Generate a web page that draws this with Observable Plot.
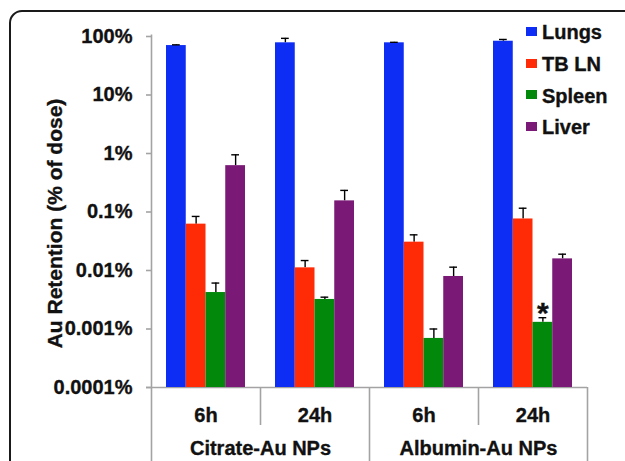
<!DOCTYPE html>
<html><head><meta charset="utf-8">
<script src="https://cdn.jsdelivr.net/npm/d3@7"></script>
<script src="https://cdn.jsdelivr.net/npm/@observablehq/plot@0.6"></script>
<style>
html,body{margin:0;padding:0;background:#fff;}
#wrap{position:relative;width:625px;height:461px;overflow:hidden;font-family:"Liberation Sans",Arial,sans-serif;}
#frame{position:absolute;left:9px;top:10px;width:700px;height:600px;border:2px solid #1a1a1a;border-top-left-radius:13px;box-sizing:border-box;pointer-events:none;}
#legend{position:absolute;left:526px;top:17px;font-weight:bold;font-size:20px;color:#111;-webkit-text-stroke:0.35px #111;}
.row{display:flex;align-items:center;height:31.7px;}
.sw{width:11px;height:9px;margin-right:5px;margin-top:-3px;}
svg text{stroke:#111;stroke-width:0.35px;}
</style></head><body><div id="wrap"></div>
<script>
// ---- data ----
const npTypes = ["Citrate-Au NPs", "Albumin-Au NPs"];
const times = ["6h", "24h"];
const organs = ["Lungs", "TB LN", "Spleen", "Liver"];
const colors = ["#0d2df5", "#ff2b06", "#02880b", "#7a1a76"];
// values in % of dose, order: Citrate 6h, Citrate 24h, Albumin 6h, Albumin 24h
const lungs = [70, 78, 78, 83];
const lungsUpper = [72, 93, 79.5, 89];
const tbln = [0.062, 0.0111, 0.0305, 0.076];
const tblnUpper = [0.084, 0.0148, 0.0407, 0.116];
const spleen = [0.0042, 0.0032, 0.00069, 0.0013];
const spleenUpper = [0.0061, 0.0035, 0.0010, 0.00156];
const liver = [0.62, 0.155, 0.0079, 0.0158];
const liverUpper = [0.95, 0.234, 0.0114, 0.019];
const yTicks = [100, 10, 1, 0.1, 0.01, 0.001, 0.0001];
const yTickLabels = ["100%", "10%", "1%", "0.1%", "0.01%", "0.001%", "0.0001%"];
const yLabel = "Au Retention (% of dose)";
const starOrgan = "Spleen"; // significance marker on Albumin-Au NPs 24h

// ---- build ----
const values = [lungs, tbln, spleen, liver];
const uppers = [lungsUpper, tblnUpper, spleenUpper, liverUpper];
const conds = npTypes.flatMap(t => times.map(h => `${t} ${h}`));
const rows = [];
conds.forEach((c, j) => organs.forEach((o, i) =>
  rows.push({cond: c, organ: o, time: times[j % 2], value: values[i][j], upper: uppers[i][j]})));

const W = 625, H = 461, ML = 151, MR = 38, MT = 36, MB = 74;
const floor = 0.0001;
const step = (W - ML - MR) / conds.length;
const pad = 15, bw = (step - 2 * pad) / organs.length;
const gray = "#a3a3a3";

const marks = [];
// axis lines / separators
marks.push(Plot.ruleY([floor], {y: d => d, insetLeft: -5, stroke: gray, strokeWidth: 1.6}));
marks.push(Plot.ruleX([conds[0]], {x: d => d, y1: 100, y2: floor, dx: -step / 2, insetTop: -1.5, insetBottom: -MB, stroke: gray, strokeWidth: 1.6}));
marks.push(Plot.ruleX([conds[2]], {x: d => d, y1: floor, y2: floor, dx: -step / 2, insetBottom: -MB, stroke: gray, strokeWidth: 1.6}));
marks.push(Plot.ruleX([conds[3]], {x: d => d, y1: floor, y2: floor, dx: step / 2, insetBottom: -MB, stroke: gray, strokeWidth: 1.6}));
marks.push(Plot.ruleX([conds[1], conds[3]], {x: d => d, y1: floor, y2: floor, dx: -step / 2, insetBottom: -38, stroke: gray, strokeWidth: 1.6}));

organs.forEach((o, i) => {
  const d = rows.filter(r => r.organ === o);
  const left = pad + bw * i, right = step - pad - bw * (i + 1);
  const off = left + bw / 2 - step / 2;
  marks.push(Plot.ruleX(d, {x: "cond", y1: "value", y2: "upper", dx: off, stroke: "#000", strokeWidth: 1.4}));
  marks.push(Plot.barY(d, {x: "cond", y1: floor, y2: "value", fill: colors[i], insetLeft: left, insetRight: right}));
  marks.push(Plot.tickY(d, {x: "cond", y: "upper", insetLeft: left + 6, insetRight: right + 6, stroke: "#000", strokeWidth: 1.4}));
  if (o === starOrgan) {
    marks.push(Plot.text(d.filter(r => r.cond === conds[3]), {x: "cond", y: "upper", dx: off, dy: -4, text: () => "*", fontSize: 30}));
  }
});

marks.push(Plot.axisY({ticks: yTicks, tickFormat: d => yTickLabels[yTicks.indexOf(d)], tickSize: 5, tickPadding: 14, stroke: gray, strokeWidth: 1.6, label: null}));
marks.push(Plot.text([yLabel], {frameAnchor: "left", textAnchor: "middle", rotate: -90, dx: -96, dy: 11.5, text: d => d, fontSize: 21}));
marks.push(Plot.text(rows.filter(r => r.organ === organs[0]), {x: "cond", y: floor, dy: 28, text: "time"}));
marks.push(Plot.text(npTypes, {x: t => `${t} ${times[0]}`, y: floor, dx: step / 2, dy: 61, text: d => d}));

const plot = Plot.plot({
  width: W, height: H,
  marginLeft: ML, marginRight: MR, marginTop: MT, marginBottom: MB,
  style: {fontFamily: '"Liberation Sans", Arial, sans-serif', fontSize: "20px", fontWeight: "bold", color: "#111", background: "transparent", overflow: "visible"},
  x: {domain: conds, paddingInner: 0, paddingOuter: 0, axis: null},
  y: {type: "log", domain: [floor, 100], axis: null},
  marks
});

const wrap = document.getElementById("wrap");
wrap.appendChild(plot);
const frame = document.createElement("div"); frame.id = "frame"; wrap.appendChild(frame);
const legend = document.createElement("div"); legend.id = "legend";
organs.forEach((o, i) => {
  const row = document.createElement("div"); row.className = "row";
  const sw = document.createElement("div"); sw.className = "sw"; sw.style.background = colors[i];
  const t = document.createElement("span"); t.textContent = o;
  row.appendChild(sw); row.appendChild(t); legend.appendChild(row);
});
wrap.appendChild(legend);
</script></body></html>
